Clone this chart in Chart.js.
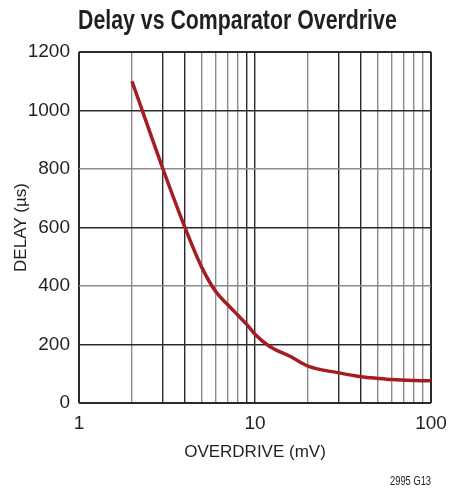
<!DOCTYPE html>
<html>
<head>
<meta charset="utf-8">
<script src="https://cdn.jsdelivr.net/npm/chart.js@4"></script>
<style>
  html, body { margin: 0; padding: 0; background: #fff; }
  #wrap { position: relative; width: 450px; height: 496px; }
  #title {
    position: absolute; left: 78px; top: 5px; white-space: nowrap;
    font-family: "Liberation Sans", Arial, sans-serif;
    font-weight: bold; font-size: 27px; color: #231f20;
    transform-origin: 0 0;
  }
  #note {
    position: absolute; left: 390px; top: 473px; white-space: nowrap;
    font-family: "Liberation Sans", Arial, sans-serif; font-size: 13px; color: #231f20;
    transform-origin: 0 0;
  }
</style>
</head>
<body>
<div id="wrap">
  <canvas id="delayChart" width="450" height="496"></canvas>
  <div id="title">Delay vs Comparator Overdrive</div>
  <div id="note">2995 G13</div>
</div>
<script>
// overdrive (mV) and delay (us)
var overdrive = [2, 3, 4, 5, 6, 7, 8, 9, 10, 12, 16, 20, 30, 40, 50, 60, 80, 100];
var delay = [1100, 800, 600, 462, 380, 336, 300, 268, 235, 195, 158, 126, 103, 90, 84, 80, 77, 76];
var xLabels = [1, 10, 100];
var yTicks = [0, 200, 400, 600, 800, 1000, 1200];

// grid lines in the original alternate between dark and grey
var darkX = [1, 3, 4, 9, 10, 30, 40, 100];
var darkY = [0, 200, 600, 1000, 1200];

// squeeze the html text to look like the condensed face of the original
function squeeze(id, w) {
    var el = document.getElementById(id);
    el.style.transform = 'scaleX(' + (w / el.offsetWidth) + ')';
}
squeeze('title', 319);
squeeze('note', 41);

var points = overdrive.map(function (v, i) { return { x: v, y: delay[i] }; });
var font = "'Liberation Sans', Arial, sans-serif";

var ctx = document.getElementById('delayChart').getContext('2d');
var delayChart = new Chart(ctx, {
    type: 'line',
    data: {
        datasets: [{
            data: points,
            borderColor: '#a51d24',
            borderWidth: 3.5,
            pointRadius: 0,
            fill: false,
            cubicInterpolationMode: 'monotone'
        }]
    },
    options: {
        responsive: false,
        animation: false,
        layout: { padding: { top: 52, right: 19, bottom: 33, left: 0 } },
        plugins: { legend: { display: false }, tooltip: { enabled: false } },
        scales: {
            x: {
                type: 'logarithmic',
                min: 1,
                max: 100,
                afterFit: function (scale) {
                    scale.height = 60;
                    scale.paddingLeft = 0;
                    scale.paddingRight = 0;
                },
                afterBuildTicks: function (scale) {
                    var t = [];
                    [1, 10].forEach(function (d) {
                        for (var k = 1; k < 10; k++) t.push({ value: k * d });
                    });
                    t.push({ value: 100 });
                    scale.ticks = t;
                },
                border: { display: false },
                grid: {
                    drawTicks: false,
                    color: function (c) {
                        return darkX.indexOf(c.tick.value) >= 0 ? '#2a2a2a' : '#8c8c8c';
                    },
                    lineWidth: function (c) {
                        var v = c.tick.value;
                        return (v === 1 || v === 100) ? 2 : 1.4;
                    }
                },
                ticks: {
                    autoSkip: false,
                    maxRotation: 0,
                    padding: 9,
                    color: '#231f20',
                    font: { family: font, size: 19 },
                    callback: function (v) {
                        return xLabels.indexOf(v) >= 0 ? String(v) : '';
                    }
                },
                title: {
                    display: true,
                    text: 'OVERDRIVE (mV)',
                    color: '#231f20',
                    font: { family: font, size: 17 },
                    padding: { top: 2, bottom: 0 }
                }
            },
            y: {
                min: 0,
                max: 1200,
                afterFit: function (scale) { scale.width = 79; },
                afterBuildTicks: function (scale) {
                    scale.ticks = yTicks.map(function (v) { return { value: v }; });
                },
                border: { display: false },
                grid: {
                    drawTicks: false,
                    color: function (c) {
                        return darkY.indexOf(c.tick.value) >= 0 ? '#2a2a2a' : '#8c8c8c';
                    },
                    lineWidth: function (c) {
                        var v = c.tick.value;
                        return (v === 0 || v === 1200) ? 2 : 1.4;
                    }
                },
                ticks: {
                    padding: 9,
                    color: '#231f20',
                    font: { family: font, size: 19 },
                    callback: function (v) { return String(v); }
                },
                title: {
                    display: true,
                    text: 'DELAY (µs)',
                    color: '#231f20',
                    font: { family: font, size: 17 },
                    padding: { top: 11, bottom: 0 }
                }
            }
        }
    }
});
</script>
</body>
</html>
